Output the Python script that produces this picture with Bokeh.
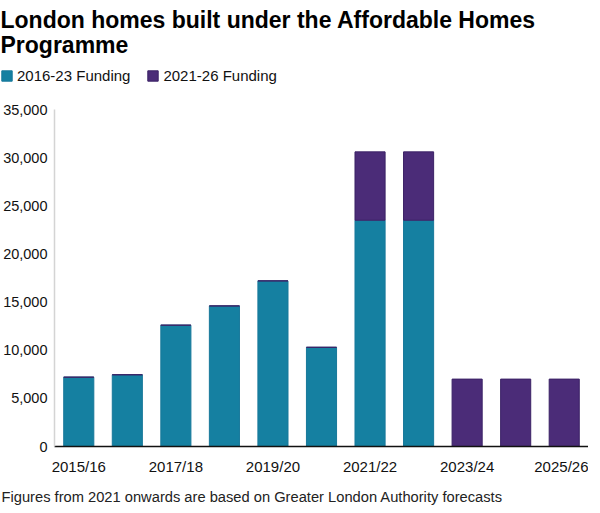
from bokeh.plotting import figure
from bokeh.layouts import column
from bokeh.models import (ColumnDataSource, Legend, LegendItem, Title, Label,
                          NumeralTickFormatter, FixedTicker, FactorRange, Range1d,
                          CustomJSTickFormatter)
from bokeh.embed import file_html
from bokeh.resources import INLINE

# ---- data ----
years = ["2015/16", "2016/17", "2017/18", "2018/19", "2019/20", "2020/21",
         "2021/22", "2022/23", "2023/24", "2024/25", "2025/26"]
funding_2016_23 = [7200, 7450, 12600, 14600, 17200, 10300, 23500, 23500, 0, 0, 0]
funding_2021_26 = [0, 0, 0, 0, 0, 0, 7100, 7100, 7000, 7000, 7000]
series_names = ["2016-23 Funding", "2021-26 Funding"]
shown_year_labels = ["2015/16", "2017/18", "2019/20", "2021/22", "2023/24", "2025/26"]
y_ticks = [0, 5000, 10000, 15000, 20000, 25000, 30000, 35000]

title_line1 = "London homes built under the Affordable Homes"
title_line2 = "Programme"
footnote = "Figures from 2021 onwards are based on Greater London Authority forecasts"

TEAL = "#1580a1"
PURPLE = "#4b2c78"
TEAL_EDGE = "#17789a"
PURPLE_EDGE = "#3b2266"
FONT = "Liberation Sans"

# ---------------- header: title + legend ----------------
header = figure(frame_width=584, frame_height=101, x_range=Range1d(0, 1),
                y_range=Range1d(0, 1), output_backend="svg", toolbar_location=None,
                title=None, x_axis_location=None, y_axis_location=None,
                min_border=0, min_border_left=0, min_border_right=0,
                min_border_top=0, min_border_bottom=0)
header.frame_align = False
header.grid.visible = False
header.outline_line_color = None

# legend swatches: renderers styled like the two series (kept outside the view)
swatch_src = ColumnDataSource(dict(x=[5], top=[0]))
sw1 = header.vbar(x="x", top="top", width=0.5, source=swatch_src,
                  fill_color=TEAL, line_color=TEAL_EDGE, line_width=1)
sw2 = header.vbar(x="x", top="top", width=0.5, source=swatch_src,
                  fill_color=PURPLE, line_color=PURPLE_EDGE, line_width=1)

legend = Legend(items=[LegendItem(label=series_names[0], renderers=[sw1]),
                       LegendItem(label=series_names[1], renderers=[sw2])],
                location=(0, 17), orientation="horizontal",
                glyph_width=13, glyph_height=13, label_standoff=4, spacing=16,
                padding=0, margin=0, border_line_color=None,
                background_fill_alpha=0, label_height=13,
                label_text_font=FONT, label_text_font_size="15px",
                label_text_color="#111111")
header.add_layout(legend)

for txt, yy in [(title_line1, 82), (title_line2, 57)]:
    header.add_layout(Label(x=0, y=yy, x_units="screen", y_units="screen", text=txt,
                            text_font=FONT, text_font_size="23px",
                            text_font_style="bold", text_baseline="alphabetic",
                            text_color="#000000"))

# ---------------- main chart ----------------
source = ColumnDataSource(dict(year=years, f1623=funding_2016_23, f2126=funding_2021_26))

p = figure(x_range=FactorRange(*years), y_range=Range1d(0, 35000),
           frame_width=534, frame_height=337, output_backend="svg",
           toolbar_location=None, min_border_left=40, min_border_right=0,
           min_border_top=8, min_border_bottom=20, title=None)
p.frame_align = False
p.outline_line_color = None
p.xgrid.grid_line_color = None
p.ygrid.grid_line_color = None

rs = p.vbar_stack(["f1623", "f2126"], x="year", width=0.62, source=source,
                  fill_color=[TEAL, PURPLE], line_color=[TEAL_EDGE, PURPLE_EDGE],
                  line_width=1)

p.yaxis.ticker = FixedTicker(ticks=y_ticks)
p.yaxis.formatter = NumeralTickFormatter(format="0,0")
p.yaxis.axis_line_color = "#d4d4d4"
p.yaxis.axis_line_width = 1.5
p.yaxis.major_tick_line_color = None
p.yaxis.minor_tick_line_color = None
p.yaxis.major_label_standoff = 1
p.yaxis.major_label_text_font = FONT
p.yaxis.major_label_text_font_size = "14.5px"
p.yaxis.major_label_text_color = "#111111"

p.xaxis.axis_line_color = "#111111"
p.xaxis.axis_line_width = 1.5
p.xaxis.major_tick_line_color = None
p.xaxis.minor_tick_line_color = None
p.xaxis.major_label_standoff = 5
p.xaxis.major_label_text_font = FONT
p.xaxis.major_label_text_font_size = "15px"
p.xaxis.major_label_text_color = "#111111"
p.xaxis.formatter = CustomJSTickFormatter(args=dict(shown=shown_year_labels),
                                          code="return shown.includes(tick) ? tick : '';")

p.add_layout(Title(text=footnote, align="left", offset=-53, standoff=19,
                   text_font=FONT, text_font_size="14.7px", text_font_style="normal",
                   text_color="#222222"), "below")

open("out.html", "w").write(file_html(column(header, p, spacing=0), INLINE))
